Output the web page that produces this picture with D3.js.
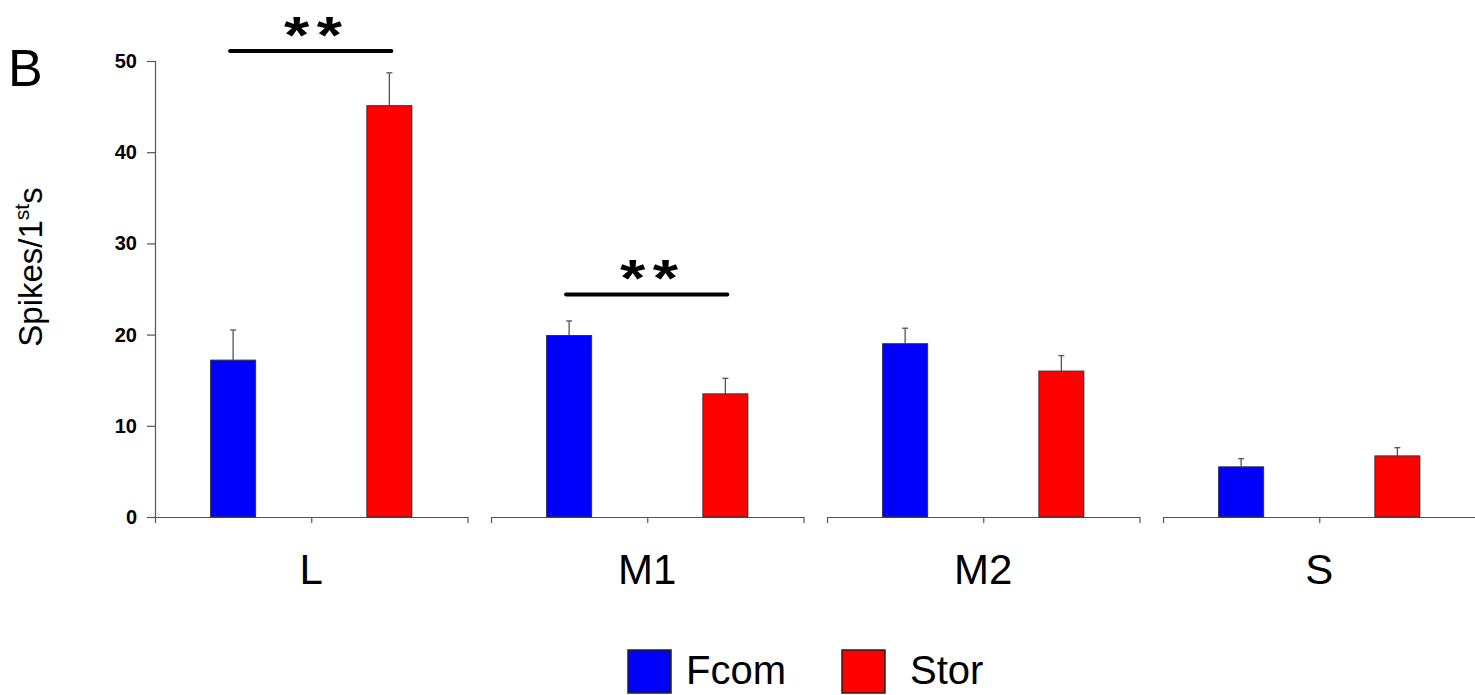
<!DOCTYPE html>
<html>
<head>
<meta charset="utf-8">
<script src="https://cdn.jsdelivr.net/npm/d3@7"></script>
<style>
  html, body { margin: 0; padding: 0; background: #fff; }
  svg { display: block; font-family: "Liberation Sans", Arial, sans-serif; }
</style>
</head>
<body>
<svg id="chart" width="1475" height="695"></svg>
<script>
// Mean spike counts in the first second, per region and condition
const categories = ["L", "M1", "M2", "S"];
const seriesNames = ["Fcom", "Stor"];
const seriesColors = ["#0000ff", "#ff0000"];
const fcomValues = [17.2, 19.9, 19.0, 5.5];
const storValues = [45.1, 13.5, 16.0, 6.7];
const fcomErrors = [3.3, 1.6, 1.7, 0.9];
const storErrors = [3.6, 1.7, 1.7, 0.9];
const yTicks = [0, 10, 20, 30, 40, 50];
// Significance brackets: region, bar height (data units), label
const sigRegions = ["L", "M1"];
const sigLevels = [51.1, 24.4];
const sigLabels = ["**", "**"];

const svg = d3.select("#chart");

const plotLeft = 155, plotRight = 1475.5, plotTop = 61, plotBottom = 517;

const y = d3.scaleLinear().domain([0, 50]).range([plotBottom, plotTop]);

const xGroup = d3.scaleBand()
  .domain(categories)
  .range([plotLeft, plotRight])
  .paddingInner(0.07)
  .paddingOuter(0);

const xSeries = d3.scalePoint()
  .domain(seriesNames)
  .range([0, xGroup.bandwidth()])
  .padding(0.5);

const barWidth = 45;
const axisColor = "#555";

// Y axis
const yAxis = svg.append("g")
  .attr("transform", `translate(${plotLeft},0)`)
  .call(d3.axisLeft(y).tickValues(yTicks).tickSize(8).tickPadding(10));
yAxis.select(".domain").attr("stroke", axisColor).attr("stroke-width", 1.2);
yAxis.selectAll(".tick line").attr("stroke", axisColor).attr("stroke-width", 1.2);
yAxis.selectAll(".tick text")
  .attr("font-size", 20).attr("font-weight", "bold").attr("fill", "#000")
  .attr("font-family", "Liberation Sans, Arial, sans-serif");

// One x axis segment per region, with ticks at both ends and the middle
categories.forEach(cat => {
  const x0 = xGroup(cat), bw = xGroup.bandwidth();
  const seg = d3.scaleLinear().domain([0, 1]).range([x0, x0 + bw]);
  const g = svg.append("g")
    .attr("transform", `translate(0,${plotBottom})`)
    .call(d3.axisBottom(seg).tickValues([0, 0.5, 1]).tickSize(6).tickSizeOuter(0).tickFormat(""));
  g.select(".domain").attr("stroke", axisColor).attr("stroke-width", 1.2);
  g.selectAll(".tick line").attr("stroke", axisColor).attr("stroke-width", 1.2);

  svg.append("text")
    .attr("x", x0 + bw / 2)
    .attr("y", 584)
    .attr("text-anchor", "middle")
    .attr("font-size", 42)
    .attr("fill", "#000")
    .text(cat);
});

// Bars with error bars
const rows = [];
categories.forEach((cat, i) => {
  rows.push({ cat, series: seriesNames[0], value: fcomValues[i], err: fcomErrors[i], color: seriesColors[0] });
  rows.push({ cat, series: seriesNames[1], value: storValues[i], err: storErrors[i], color: seriesColors[1] });
});
const cx = d => xGroup(d.cat) + xSeries(d.series);

svg.append("g").selectAll("line.err").data(rows).join("line")
  .attr("x1", cx).attr("x2", cx)
  .attr("y1", d => y(d.value)).attr("y2", d => y(d.value + d.err))
  .attr("stroke", axisColor).attr("stroke-width", 1.3);
svg.append("g").selectAll("line.cap").data(rows).join("line")
  .attr("x1", d => cx(d) - 3).attr("x2", d => cx(d) + 3)
  .attr("y1", d => y(d.value + d.err)).attr("y2", d => y(d.value + d.err))
  .attr("stroke", axisColor).attr("stroke-width", 1.3);

svg.append("g").selectAll("rect").data(rows).join("rect")
  .attr("x", d => cx(d) - barWidth / 2)
  .attr("width", barWidth)
  .attr("y", d => y(d.value))
  .attr("height", d => y(0) - y(d.value))
  .attr("fill", d => d.color)
  .attr("stroke", "#333")
  .attr("stroke-width", 1);

// Significance brackets
sigRegions.forEach((cat, i) => {
  const xa = xGroup(cat) + xSeries(seriesNames[0]) - 3;
  const xb = xGroup(cat) + xSeries(seriesNames[1]) + 2;
  const yy = y(sigLevels[i]);
  svg.append("line")
    .attr("x1", xa).attr("x2", xb)
    .attr("y1", yy).attr("y2", yy)
    .attr("stroke", "#000").attr("stroke-width", 4).attr("stroke-linecap", "round");
  const mid = (xa + xb) / 2 + 6;
  svg.append("text")
    .attr("transform", `translate(${mid},${yy + 2}) scale(1.25,1)`)
    .attr("text-anchor", "middle")
    .attr("font-size", 52)
    .attr("font-weight", "bold")
    .attr("letter-spacing", 6)
    .attr("fill", "#000")
    .text(sigLabels[i]);
});

// Y axis title with superscript
const yTitle = svg.append("text")
  .attr("transform", "translate(42,267) rotate(-90)")
  .attr("text-anchor", "middle")
  .attr("font-size", 33)
  .attr("fill", "#000");
yTitle.append("tspan").text("Spikes/1");
yTitle.append("tspan").attr("font-size", 21).attr("dy", -13).text("st");
yTitle.append("tspan").attr("dy", 13).text("s");

// Panel letter
svg.append("text")
  .attr("x", 8).attr("y", 86)
  .attr("font-size", 52)
  .attr("fill", "#000")
  .text("B");

// Legend
const legend = svg.append("g");
const legendX = [628, 842];
const legendTextX = [686, 910];
seriesNames.forEach((name, i) => {
  legend.append("rect")
    .attr("x", legendX[i]).attr("y", 650)
    .attr("width", 43).attr("height", 43)
    .attr("fill", seriesColors[i])
    .attr("stroke", "#222").attr("stroke-width", 1.5);
  legend.append("text")
    .attr("x", legendTextX[i]).attr("y", 684)
    .attr("font-size", 40)
    .attr("fill", "#000")
    .text(name);
});
</script>
</body>
</html>
